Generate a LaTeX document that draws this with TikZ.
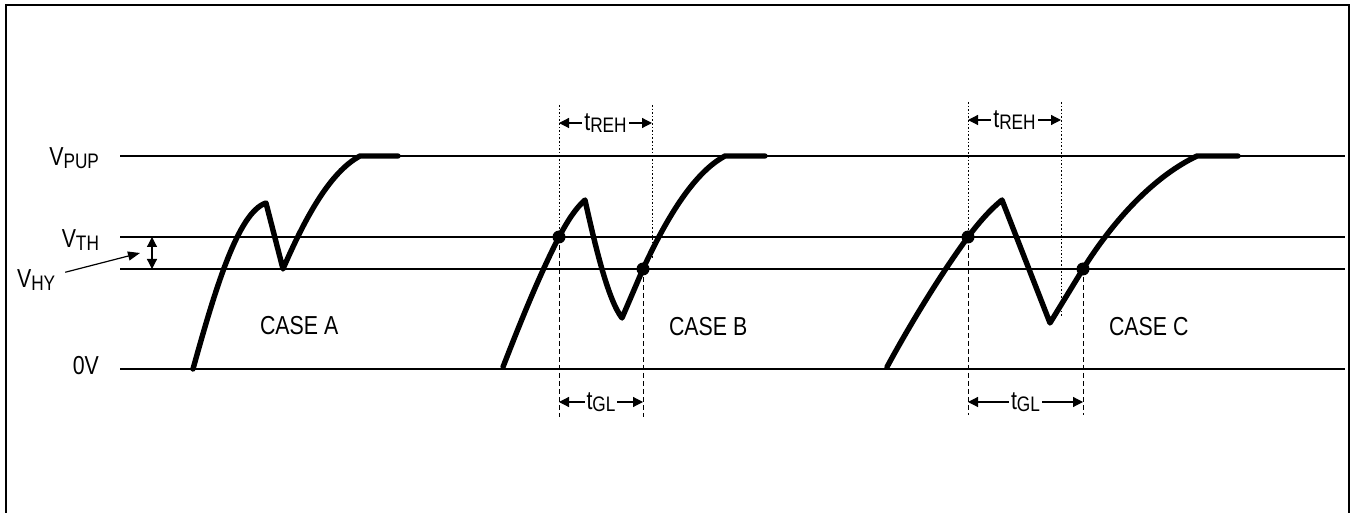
\documentclass[tikz,border=0pt]{standalone}
\usepackage{fontspec}
\setmainfont[FakeStretch=0.82]{Liberation Sans}
\usetikzlibrary{arrows.meta,positioning}

\newcommand{\lo}[1]{\raisebox{-1.2pt}{\fontsize{10.5}{12}\selectfont #1}}

\begin{document}
\begin{tikzpicture}[
  x=0.5pt, y=-0.5pt,
  font=\fontsize{13}{15}\selectfont,
  level/.style={line width=0.8pt},
  wave/.style={line width=2.7pt, line join=round, line cap=round},
  guide/.style={line width=0.5pt, dash pattern=on 0.8pt off 1pt},
  guidedash/.style={line width=0.5pt, dash pattern=on 2.5pt off 1.5pt},
  dimline/.style={{Triangle[length=5pt,width=5pt]}-{Triangle[length=5pt,width=5pt]}, line width=0.6pt},
  pointer/.style={-{Triangle[length=6pt,width=4.5pt]}, line width=0.6pt},
  dimlabel/.style={fill=white, inner sep=1pt},
  dot/.style={circle, fill=black, inner sep=0pt, minimum size=6.5pt}
]
\useasboundingbox (0,0) rectangle (1351,513);
\draw[line width=1pt] (6,513) -- (6,5) -- (1349,5) -- (1349,513);

% levels
\node[anchor=base east] (pup) at (106,166) {V\lo{PUP}};
\node[anchor=base east] (th) at (106,248) {V\lo{TH}};
\node[anchor=base west] (hy) at (10,288) {V\lo{HY}};
\node[anchor=base east] (zero) at (106,375) {0V};

\coordinate (pupL) at (120,156);  \coordinate (pupR) at (1345,156);
\coordinate (thL) at (120,237);   \coordinate (thR) at (1345,237);
\coordinate (hyL) at (120,269);   \coordinate (hyR) at (1345,269);
\coordinate (zeroL) at (120,369); \coordinate (zeroR) at (1345,369);
\draw[level] (pupL) -- (pupR);
\draw[level] (thL) -- (thR);
\draw[level] (hyL) -- (hyR);
\draw[level] (zeroL) -- (zeroR);

\coordinate (hyTip) at (140,253);
\coordinate (hyTop) at (152,237);
\coordinate (hyBot) at (152,269);
\draw[pointer] (hy.east) ++(3,-8) -- (hyTip);
\draw[dimline] (hyTop) -- (hyBot);

% case A
\coordinate (a0) at (193,369);
\coordinate (aPk) at (266,203);
\coordinate (aDip) at (283,269);
\coordinate (aTop) at (360,156);
\coordinate (aEnd) at (398,156);
\draw[wave] (a0) .. controls (215,290) and (238,212) .. (aPk) -- (aDip)
  .. controls (305,218) and (330,172) .. (aTop) -- (aEnd);
\node[anchor=west] (caseA) at (253,326) {CASE A};

% case B
\coordinate (bTHtop) at (559,105);  \coordinate (bTH) at (559,237);  \coordinate (bTHbot) at (559,417);
\coordinate (bREtop) at (652,105);  \coordinate (bREbot) at (652,258);
\coordinate (bHY) at (643,269);     \coordinate (bHYbot) at (643,417);
\draw[guide] (bTHtop) -- (bTH);
\draw[guidedash] (bTH) -- (bTHbot);
\draw[guide] (bREtop) -- (bREbot);
\draw[guidedash] (bHY) -- (bHYbot);

\coordinate (b0) at (503,367);
\coordinate (bPk) at (585,200);
\coordinate (bDip) at (622,318);
\coordinate (bTop) at (725,156);
\coordinate (bEnd) at (765,156);
\draw[wave] (b0) .. controls (522,318) and (540,274) .. (bTH)
  .. controls (568,220) and (576,208) .. (bPk)
  .. controls (595,245) and (608,300) .. (bDip) -- (bHY)
  .. controls (668,215) and (695,172) .. (bTop) -- (bEnd);
\node[dot] (bTHdot) at (bTH) {};
\node[dot] (bHYdot) at (bHY) {};
\node[anchor=west] (caseB) at (662,327) {CASE B};

\draw[dimline] (559,123) -- (652,123) node[midway, dimlabel] (bREH) {t\lo{REH}};
\draw[dimline] (559,402) -- (643,402) node[midway, dimlabel] (bGL) {t\lo{GL}};

% case C
\coordinate (cTHtop) at (968,102);  \coordinate (cTH) at (968,237);  \coordinate (cTHbot) at (968,415);
\coordinate (cREtop) at (1061,102); \coordinate (cREbot) at (1061,317);
\coordinate (cHY) at (1083,269);    \coordinate (cHYbot) at (1083,415);
\draw[guide] (cTHtop) -- (cTH);
\draw[guidedash] (cTH) -- (cTHbot);
\draw[guide] (cREtop) -- (cREbot);
\draw[guidedash] (cHY) -- (cHYbot);

\coordinate (c0) at (887,367);
\coordinate (cPk) at (1002,200);
\coordinate (cDip) at (1050,323);
\coordinate (cTop) at (1197,156);
\coordinate (cEnd) at (1238,156);
\draw[wave] (c0) .. controls (908,328) and (940,275) .. (cTH)
  .. controls (980,221) and (991,209) .. (cPk) -- (cDip) -- (cHY)
  .. controls (1115,218) and (1155,176) .. (cTop) -- (cEnd);
\node[dot] (cTHdot) at (cTH) {};
\node[dot] (cHYdot) at (cHY) {};
\node[anchor=west] (caseC) at (1102,327) {CASE C};

\draw[dimline] (968,120) -- (1061,120) node[midway, dimlabel] (cREH) {t\lo{REH}};
\draw[dimline] (968,402) -- (1083,402) node[midway, dimlabel] (cGL) {t\lo{GL}};
\end{tikzpicture}
\end{document}
